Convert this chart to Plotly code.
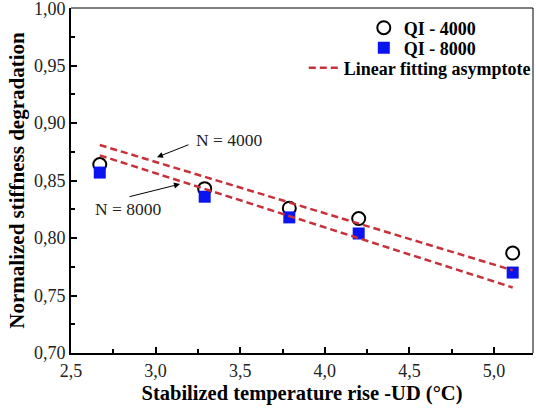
import plotly.graph_objects as go

temp = [2.67, 3.29, 3.79, 4.20, 5.11]
qi4000 = [0.864, 0.843, 0.826, 0.817, 0.787]
qi8000 = [0.857, 0.836, 0.818, 0.804, 0.770]
fit_x = [2.67, 5.11]
fit4000 = [0.881, 0.772]
fit8000 = [0.872, 0.757]

x_ticks = [2.5, 3.0, 3.5, 4.0, 4.5, 5.0]
y_ticks = [0.70, 0.75, 0.80, 0.85, 0.90, 0.95, 1.00]

SERIF = "Liberation Serif"
RED = "#c8303a"

fig = go.Figure()
fig.add_trace(go.Scatter(x=temp, y=qi4000, mode="markers", name="<b>QI - 4000</b>",
                         marker=dict(symbol="circle-open", size=13, color="black", line=dict(width=2)),
                         legend="legend"))
fig.add_trace(go.Scatter(x=temp, y=qi8000, mode="markers", name="<b>QI - 8000</b>",
                         marker=dict(symbol="square", size=12, color="#0a14f0"),
                         legend="legend2"))
fig.add_trace(go.Scatter(x=fit_x, y=fit4000, mode="lines", name="<b>Linear fitting asymptote</b>",
                         line=dict(color=RED, width=2.5, dash="7px,4px"), legend="legend3"))
fig.add_trace(go.Scatter(x=fit_x, y=fit8000, mode="lines", showlegend=False,
                         line=dict(color=RED, width=2.5, dash="7px,4px")))

axis_common = dict(ticks="inside", ticklen=6, tickwidth=1.5, tickcolor="black", automargin=False,
                   showline=True, linecolor="black", linewidth=2, showgrid=False, zeroline=False,
                   ticklabeloverflow="allow",
                   tickfont=dict(family=SERIF, size=18, color="#222"))

fig.update_xaxes(range=[2.5, 5.23], tickvals=x_ticks, ticktext=[f"{v:.1f}".replace(".", ",") for v in x_ticks],
                 minor=dict(ticks="inside", ticklen=4, tickwidth=1.5, tickcolor="black", dtick=0.25),
                 title=dict(text="<b>Stabilized temperature rise -UD (°C)</b>",
                            font=dict(family=SERIF, size=20.5, color="black"), standoff=6),
                 **axis_common)
fig.update_yaxes(range=[0.70, 1.0002], tickvals=y_ticks, ticktext=[f"{v:.2f}".replace(".", ",") for v in y_ticks],
                 minor=dict(ticks="inside", ticklen=4, tickwidth=1.5, tickcolor="black", dtick=0.025),
                 title=dict(text="<b>Normalized stiffness degradation</b>",
                            font=dict(family=SERIF, size=21, color="black"), standoff=4),
                 **axis_common)

leg_font = dict(family=SERIF, size=18, color="black")
def leg(x, y):
    return dict(x=x, y=y, xanchor="right", yanchor="middle", bgcolor="rgba(0,0,0,0)",
                font=leg_font, itemwidth=30, tracegroupgap=0)

fig.update_layout(
    width=536, height=410,
    margin=dict(l=71, r=3, t=8, b=57, autoexpand=False),
    plot_bgcolor="white", paper_bgcolor="white",
    legend=leg(0.887, 0.942),
    legend2=leg(0.887, 0.884),
    legend3=leg(1.006, 0.826),
    showlegend=True,
    shapes=[
        dict(type="line", xref="paper", yref="paper", x0=0, x1=1, y0=1, y1=1, line=dict(color="black", width=1)),
        dict(type="line", xref="paper", yref="paper", x0=1, x1=1, y0=0, y1=1, line=dict(color="black", width=1)),
    ],
    annotations=[
        dict(x=3.008, y=0.8704, ax=3.203, ay=0.8817, xref="x", yref="y", axref="x", ayref="y",
             text="", showarrow=True, arrowhead=2, arrowsize=1.2, arrowwidth=1, arrowcolor="black"),
        dict(x=3.434, y=0.8852, xref="x", yref="y", text="N = 4000", showarrow=False,
             font=dict(family=SERIF, size=17.5, color="#222")),
        dict(x=3.144, y=0.847, ax=2.837, ay=0.8357, xref="x", yref="y", axref="x", ayref="y",
             text="", showarrow=True, arrowhead=2, arrowsize=1.2, arrowwidth=1, arrowcolor="black"),
        dict(x=2.840, y=0.8252, xref="x", yref="y", text="N = 8000", showarrow=False,
             font=dict(family=SERIF, size=17.5, color="#222")),
    ],
)

fig.write_html("out.html", config={"displayModeBar": False},
               post_script="document.body.style.margin='0';")
